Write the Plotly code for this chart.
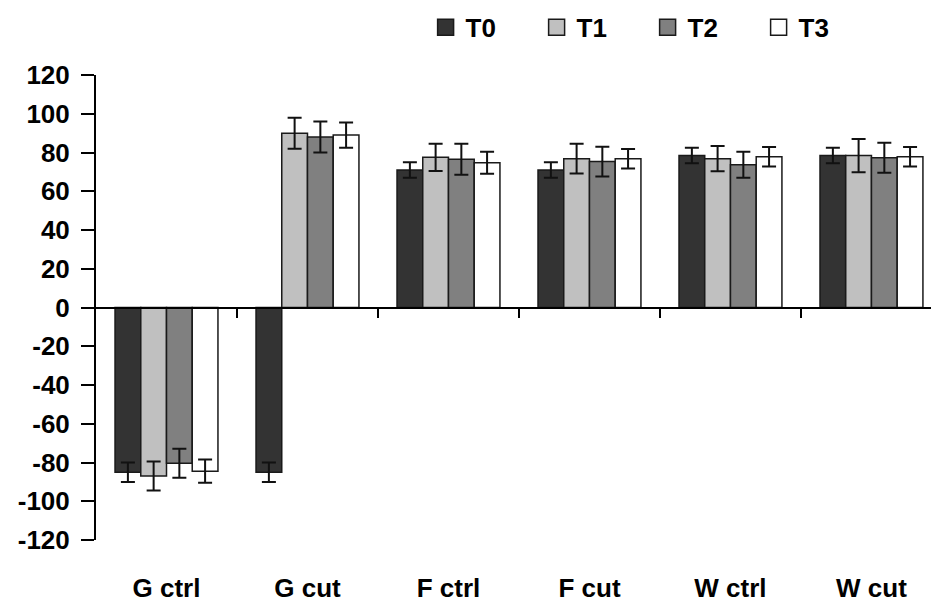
import plotly.graph_objects as go

categories = ["G ctrl", "G cut", "F ctrl", "F cut", "W ctrl", "W cut"]
series_names = ["T0", "T1", "T2", "T3"]

t0_values = [-85, -85, 71, 71, 78.4, 78.4]
t1_values = [-87, 90, 77.5, 76.8, 76.8, 78.4]
t2_values = [-80.4, 88, 76.5, 75.3, 73.7, 77.3]
t3_values = [-84.5, 89, 74.7, 76.8, 77.8, 77.8]

t0_errors = [5, 5, 4, 4, 4, 4]
t1_errors = [7.5, 8, 7, 7.7, 6.5, 8.6]
t2_errors = [7.5, 8, 8, 7.7, 6.7, 7.7]
t3_errors = [6, 6.5, 5.7, 5, 5, 5]

y_ticks = list(range(-120, 121, 20))
y_tick_labels = [str(v) for v in y_ticks]  # plain hyphen minus

values = [t0_values, t1_values, t2_values, t3_values]
errors = [t0_errors, t1_errors, t2_errors, t3_errors]
colors = ["#333333", "#c0c0c0", "#808080", "#ffffff"]

FONT = "Liberation Sans, Arial, sans-serif"
FS = 26
xpos = list(range(len(categories)))
xrange = [-0.5, 5.479]

fig = go.Figure()
for name, vals, errs, col in zip(series_names, values, errors, colors):
    fig.add_trace(go.Bar(
        x=xpos, y=vals, name=name, showlegend=False,
        marker=dict(color=col, line=dict(color="#1a1a1a", width=1.5)),
        error_y=dict(type="data", array=errs, visible=True,
                     color="#111111", thickness=2, width=7),
    ))
    # legend entry with a larger square symbol
    fig.add_trace(go.Scatter(
        x=[None], y=[None], mode="markers", name=name,
        marker=dict(symbol="square", size=20, color=col,
                    line=dict(color="#1a1a1a", width=1.5)),
    ))

# invisible trace to host the zero-line axis
fig.add_trace(go.Scatter(x=[0], y=[0], xaxis="x2", mode="markers",
                         marker=dict(opacity=0), showlegend=False,
                         hoverinfo="skip"))

fig.update_layout(
    width=931, height=595,
    margin=dict(l=88, r=0, t=67, b=63, autoexpand=False),
    paper_bgcolor="white", plot_bgcolor="white",
    barmode="group", bargap=0.27, bargroupgap=0,
    font=dict(family=FONT, size=FS, color="black", weight="bold"),
    xaxis=dict(
        range=xrange, tickmode="array", tickvals=xpos, ticktext=categories,
        showline=False, showgrid=False, zeroline=False, automargin=False,
        ticks="outside", ticklen=25, tickcolor="rgba(0,0,0,0)",
        tickfont=dict(family=FONT, size=FS, color="black", weight="bold"),
    ),
    xaxis2=dict(
        overlaying="x", anchor="free", position=0.5, range=xrange,
        tickmode="array", tickvals=[0.5, 1.5, 2.5, 3.5, 4.5],
        showticklabels=False, showline=True, linecolor="black", linewidth=2,
        ticks="outside", ticklen=9, tickwidth=2, tickcolor="black",
        showgrid=False, zeroline=False, automargin=False,
    ),
    yaxis=dict(
        range=[-120, 120], tickmode="array", tickvals=y_ticks,
        ticktext=y_tick_labels, automargin=False,
        showline=True, linecolor="black", linewidth=2,
        ticks="outside", ticklen=13, tickwidth=2, tickcolor="black",
        ticklabelstandoff=6,
        showgrid=False, zeroline=False,
        tickfont=dict(family=FONT, size=FS, color="black", weight="bold"),
    ),
    legend=dict(
        orientation="h", x=0.391, y=1.153, xanchor="left", yanchor="top",
        font=dict(family=FONT, size=FS, color="black", weight="bold"),
        entrywidth=66, entrywidthmode="pixels", itemsizing="trace",
        bgcolor="rgba(0,0,0,0)",
    ),
)

fig.write_html("out.html")
